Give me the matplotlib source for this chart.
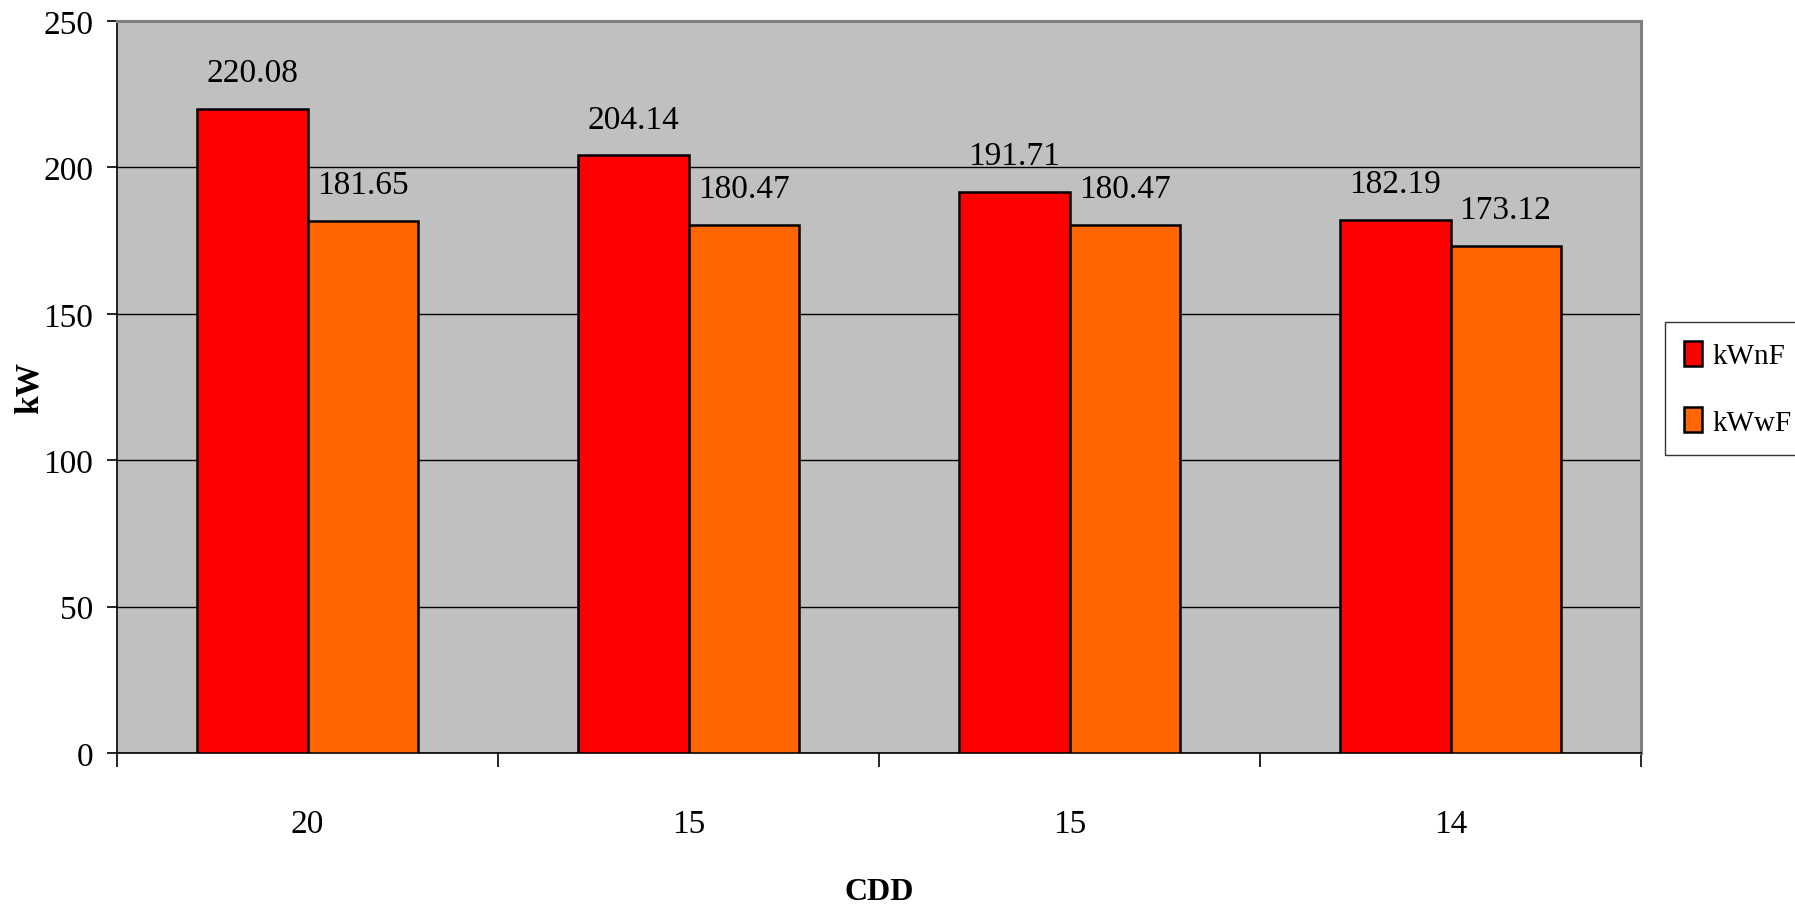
import matplotlib
matplotlib.use("Agg")
import matplotlib.pyplot as plt
import numpy as np

categories = ["20", "15", "15", "14"]
kWnF = [220.08, 204.14, 191.71, 182.19]
kWwF = [181.65, 180.47, 180.47, 173.12]
series_names = ["kWnF", "kWwF"]

plt.rcParams['font.family'] = ['Liberation Serif', 'DejaVu Serif']

W, H = 1795, 912
fig = plt.figure(figsize=(W/100, H/100), dpi=100)
ax = fig.add_axes([117/W, 1-754/H, (1641-117)/W, (754-22)/H])
ax.set_facecolor('#C0C0C0')

x = np.arange(len(categories))
w = 0.289
b1 = ax.bar(x - w/2, kWnF, w, color='#FF0000', edgecolor='black', linewidth=1.8, label=series_names[0], zorder=3)
b2 = ax.bar(x + w/2, kWwF, w, color='#FF6600', edgecolor='black', linewidth=1.8, label=series_names[1], zorder=3)

for bars, vals in ((b1, kWnF), (b2, kWwF)):
    for r, v in zip(bars, vals):
        ax.annotate(f"{v:.2f}", (r.get_x() + r.get_width()/2, v), xytext=(0, 20),
                    textcoords='offset points', ha='center', va='baseline', fontsize=24, zorder=4)

ax.set_xlim(-0.5, len(categories) - 0.5)
ax.set_ylim(0, 250)
ax.set_yticks(np.arange(0, 251, 50))
ax.yaxis.grid(True, color='black', linewidth=1, zorder=1)
ax.set_axisbelow(True)

ax.set_xticks(np.arange(-0.5, len(categories), 1.0))
ax.set_xticklabels([])
ax.set_xticks(x, minor=True)
ax.set_xticklabels(categories, minor=True)
ax.tick_params(axis='x', which='major', length=10, width=1.2, direction='out')
ax.tick_params(axis='x', which='minor', length=0, pad=40, labelsize=24)
ax.tick_params(axis='y', length=7, width=1.2, direction='out', labelsize=24, pad=10)

for s in ('left', 'bottom'):
    ax.spines[s].set_color('black')
    ax.spines[s].set_linewidth(1.2)
for s in ('top', 'right'):
    ax.spines[s].set_color('#808080')
    ax.spines[s].set_linewidth(2.2)

ax.set_ylabel("kW", fontsize=24, fontweight='bold')
ax.yaxis.set_label_coords((29 - 117) / 1524, 0.5)
ax.set_xlabel("CDD", fontsize=23, fontweight='bold')
ax.xaxis.set_label_coords(0.5, (754 - 893) / 732)
ax.xaxis.label.set_va('center')
ax.yaxis.label.set_va('center')

leg = fig.legend(handles=[b1, b2], labels=series_names, loc='upper left',
                 bbox_to_anchor=(1665/W, 1-323/H), fontsize=21,
                 frameon=True, fancybox=False, edgecolor='black',
                 handlelength=0.62, handleheight=0.93, handletextpad=0.35,
                 borderpad=0.65, labelspacing=1.3, borderaxespad=0)
leg.get_frame().set_linewidth(1)

fig.savefig("out.png", dpi=100)
